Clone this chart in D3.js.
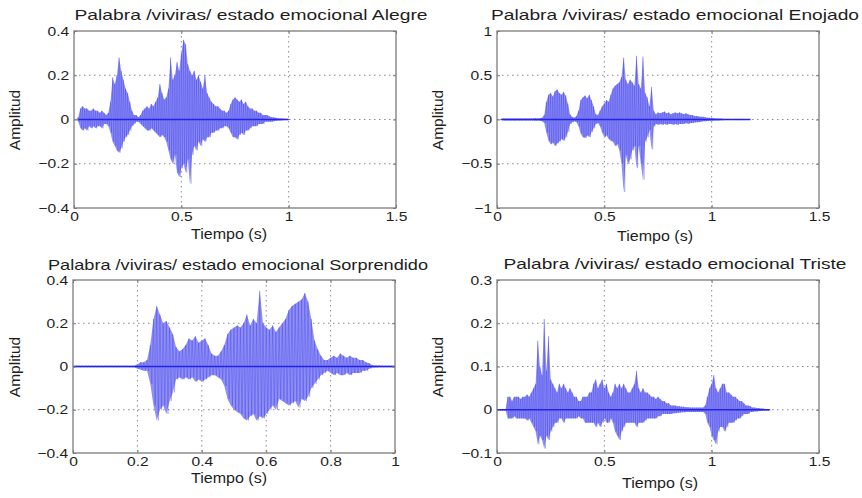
<!DOCTYPE html>
<html>
<head>
<meta charset="utf-8">
<script src="https://cdn.jsdelivr.net/npm/d3@7"></script>
<style>
  body { margin: 0; background: #fff; }
  svg { display: block; }
  text { font-family: "Liberation Sans", Arial, sans-serif; fill: #1e1e1e; }
</style>
</head>
<body>
<div id="chart"></div>
<script>
// envelope of each recording, one value every 10 ms starting at t = 0
const step = 0.01

const alegreUp = [0,0,0.01,0.05,0.06,0.05,0.05,0.04,0.04,0.05, 0.04,0.04,0.03,0.04,0.03,0.02,0.03,0.08,0.19,0.16,
  0.20,0.28,0.22,0.18,0.14,0.12,0.08,0.04,0.02,0.02, 0.01,0.02,0.04,0.05,0.06,0.05,0.07,0.06,0.08,0.10,
  0.16,0.12,0.09,0.10,0.14,0.28,0.18,0.20,0.26,0.22, 0.30,0.36,0.34,0.25,0.22,0.20,0.22,0.18,0.20,0.17,
  0.14,0.20,0.12,0.10,0.08,0.07,0.06,0.06,0.05,0.04, 0.04,0.03,0.04,0.07,0.09,0.10,0.09,0.08,0.09,0.07,
  0.08,0.06,0.05,0.05,0.04,0.04,0.03,0.03,0.02,0.02, 0.02,0.015,0.01,0.01,0.008,0.006,0.005,0.004,0.003,0.002, 0]
const alegreLo = [0,0,-0.01,-0.04,-0.05,-0.04,-0.05,-0.03,-0.04,-0.03, -0.04,-0.03,-0.03,-0.04,-0.02,-0.02,-0.03,-0.06,-0.10,-0.12,
  -0.14,-0.15,-0.13,-0.10,-0.08,-0.07,-0.05,-0.03,-0.02,-0.01, -0.01,-0.02,-0.03,-0.04,-0.05,-0.05,-0.04,-0.05,-0.06,-0.07,
  -0.08,-0.07,-0.08,-0.10,-0.14,-0.18,-0.20,-0.16,-0.24,-0.26, -0.22,-0.20,-0.24,-0.18,-0.29,-0.16,-0.12,-0.14,-0.10,-0.12,
  -0.09,-0.10,-0.08,-0.08,-0.06,-0.06,-0.05,-0.05,-0.04,-0.04, -0.03,-0.03,-0.04,-0.06,-0.08,-0.08,-0.09,-0.07,-0.06,-0.07,
  -0.05,-0.05,-0.04,-0.03,-0.03,-0.03,-0.02,-0.02,-0.02,-0.01, -0.01,-0.01,-0.01,-0.008,-0.006,-0.005,-0.004,-0.003,-0.002,-0.001, 0]

const enojadoUp = [0,0,0.005,0.012,0.012,0.01,0.012,0.01,0.012,0.01, 0.012,0.012,0.01,0.012,0.01,0.012,0.01,0.012,0.015,0.012,
  0.015,0.02,0.05,0.20,0.28,0.30,0.26,0.32,0.34,0.30, 0.28,0.31,0.27,0.18,0.06,0.03,0.02,0.04,0.10,0.22,
  0.25,0.27,0.24,0.28,0.22,0.15,0.06,0.05,0.10,0.15, 0.18,0.22,0.20,0.28,0.35,0.38,0.40,0.42,0.48,0.70,
  0.45,0.40,0.45,0.42,0.38,0.72,0.40,0.35,0.71,0.30, 0.25,0.15,0.37,0.10,0.06,0.08,0.07,0.08,0.09,0.07,
  0.08,0.06,0.07,0.08,0.07,0.08,0.07,0.06,0.07,0.06, 0.05,0.05,0.04,0.04,0.035,0.03,0.03,0.025,0.02,0.02,
  0.018,0.015,0.012,0.01,0.01,0.008,0.007,0.007,0.006,0.006, 0.005,0.005,0.005,0.004,0.004,0.004,0.003,0.003,0.002]
const enojadoLo = [0,0,-0.005,-0.012,-0.012,-0.01,-0.012,-0.01,-0.012,-0.01, -0.012,-0.012,-0.01,-0.012,-0.01,-0.012,-0.01,-0.012,-0.015,-0.012,
  -0.015,-0.02,-0.04,-0.15,-0.24,-0.28,-0.26,-0.30,-0.27,-0.25, -0.22,-0.24,-0.20,-0.14,-0.05,-0.03,-0.02,-0.03,-0.08,-0.16,
  -0.20,-0.21,-0.18,-0.20,-0.14,-0.10,-0.05,-0.04,-0.08,-0.15, -0.20,-0.18,-0.22,-0.24,-0.25,-0.30,-0.28,-0.35,-0.50,-0.82,
  -0.40,-0.50,-0.45,-0.35,-0.30,-0.55,-0.30,-0.50,-0.68,-0.25, -0.20,-0.12,-0.34,-0.08,-0.05,-0.06,-0.05,-0.06,-0.05,-0.06,
  -0.05,-0.05,-0.06,-0.05,-0.06,-0.05,-0.05,-0.05,-0.04,-0.05, -0.04,-0.04,-0.035,-0.03,-0.03,-0.025,-0.02,-0.02,-0.018,-0.015,
  -0.015,-0.012,-0.01,-0.01,-0.008,-0.008,-0.007,-0.007,-0.006,-0.006, -0.005,-0.005,-0.005,-0.004,-0.004,-0.004,-0.003,-0.003,-0.002]

const sorprendidoUp = [0.003,0.003,0.003,0.003,0.003,0.003,0.003,0.003,0.003,0.003, 0.003,0.003,0.003,0.003,0.003,0.003,0.003,0.003,0.003,0.003,
  0.01,0.02,0.02,0.03,0.10,0.22,0.28,0.24,0.20,0.21, 0.18,0.15,0.09,0.07,0.08,0.10,0.13,0.12,0.14,0.11,
  0.12,0.13,0.10,0.06,0.05,0.05,0.07,0.10,0.15,0.17, 0.18,0.19,0.18,0.20,0.24,0.19,0.22,0.20,0.35,0.20,
  0.18,0.17,0.19,0.16,0.18,0.20,0.22,0.26,0.28,0.29, 0.30,0.31,0.34,0.30,0.22,0.12,0.08,0.05,0.03,0.03,
  0.04,0.05,0.04,0.06,0.05,0.04,0.05,0.04,0.04,0.03, 0.03,0.02,0.015,0.006,0.005,0.005,0.004,0.004,0.003,0.003, 0.003]
const sorprendidoLo = [-0.003,-0.003,-0.003,-0.003,-0.003,-0.003,-0.003,-0.003,-0.003,-0.003, -0.003,-0.003,-0.003,-0.003,-0.003,-0.003,-0.003,-0.003,-0.003,-0.003,
  -0.01,-0.015,-0.02,-0.02,-0.08,-0.18,-0.25,-0.20,-0.18,-0.22, -0.16,-0.12,-0.06,-0.05,-0.06,-0.05,-0.06,-0.05,-0.07,-0.06,
  -0.07,-0.06,-0.05,-0.04,-0.04,-0.05,-0.06,-0.09,-0.15,-0.18, -0.20,-0.21,-0.22,-0.24,-0.25,-0.23,-0.22,-0.25,-0.23,-0.24,
  -0.22,-0.20,-0.18,-0.20,-0.15,-0.16,-0.17,-0.18,-0.17,-0.16, -0.19,-0.15,-0.16,-0.14,-0.10,-0.08,-0.06,-0.04,-0.03,-0.02,
  -0.03,-0.04,-0.03,-0.04,-0.04,-0.03,-0.04,-0.03,-0.03,-0.03, -0.02,-0.02,-0.01,-0.005,-0.005,-0.004,-0.004,-0.003,-0.003,-0.003, -0.003]

const tristeUp = [0.002,0.002,0.002,0.002,0.002,0.03,0.03,0.02,0.03,0.03, 0.03,0.025,0.03,0.03,0.035,0.03,0.04,0.05,0.06,0.16,
  0.10,0.08,0.21,0.09,0.17,0.07,0.06,0.05,0.04,0.06, 0.05,0.06,0.05,0.04,0.05,0.04,0.03,0.03,0.02,0.02,
  0.03,0.03,0.03,0.04,0.04,0.06,0.07,0.05,0.06,0.07, 0.05,0.06,0.04,0.03,0.04,0.06,0.05,0.06,0.05,0.06,
  0.05,0.04,0.04,0.05,0.06,0.09,0.05,0.04,0.05,0.04, 0.04,0.035,0.03,0.03,0.025,0.03,0.025,0.02,0.02,0.015,
  0.015,0.01,0.01,0.01,0.008,0.008,0.007,0.007,0.006,0.006, 0.005,0.005,0.005,0.005,0.005,0.005,0.005,0.01,0.03,0.05,
  0.06,0.08,0.05,0.04,0.05,0.06,0.06,0.04,0.04,0.035, 0.03,0.03,0.025,0.02,0.02,0.015,0.01,0.01,0.008,0.005,
  0.005,0.004,0.004,0.003,0.003,0.002,0.002,0.002]
const tristeLo = [-0.002,-0.002,-0.002,-0.002,-0.002,-0.02,-0.02,-0.02,-0.015,-0.02, -0.02,-0.02,-0.02,-0.02,-0.025,-0.02,-0.03,-0.04,-0.05,-0.08,
  -0.06,-0.07,-0.09,-0.06,-0.07,-0.05,-0.04,-0.03,-0.03,-0.02, -0.02,-0.03,-0.02,-0.02,-0.02,-0.02,-0.02,-0.02,-0.015,-0.02,
  -0.02,-0.03,-0.03,-0.03,-0.03,-0.03,-0.04,-0.03,-0.04,-0.03, -0.02,-0.03,-0.03,-0.02,-0.03,-0.05,-0.06,-0.07,-0.05,-0.04,
  -0.03,-0.03,-0.03,-0.03,-0.03,-0.04,-0.03,-0.03,-0.03,-0.025, -0.02,-0.02,-0.02,-0.02,-0.02,-0.015,-0.015,-0.01,-0.01,-0.01,
  -0.01,-0.01,-0.008,-0.008,-0.007,-0.007,-0.006,-0.006,-0.005,-0.005, -0.005,-0.005,-0.005,-0.005,-0.005,-0.005,-0.005,-0.01,-0.03,-0.04,
  -0.06,-0.07,-0.08,-0.05,-0.04,-0.04,-0.05,-0.04,-0.03,-0.03, -0.03,-0.025,-0.02,-0.02,-0.015,-0.01,-0.01,-0.01,-0.005,-0.005,
  -0.004,-0.004,-0.003,-0.003,-0.002,-0.002,-0.002,-0.002]

const titles = [
  "Palabra /viviras/ estado emocional Alegre",
  "Palabra /viviras/ estado emocional Enojado",
  "Palabra /viviras/ estado emocional Sorprendido",
  "Palabra /viviras/ estado emocional Triste"
]
const xTicks15 = [0, 0.5, 1, 1.5]
const xTicks10 = [0, 0.2, 0.4, 0.6, 0.8, 1]
const yTicks04 = [-0.4, -0.2, 0, 0.2, 0.4]
const yTicks1 = [-1, -0.5, 0, 0.5, 1]
const yTicks03 = [-0.1, 0, 0.1, 0.2, 0.3]
const xLabel = "Tiempo (s)"
const yLabel = "Amplitud"

const panels = [
  { title: titles[0], up: alegreUp, lo: alegreLo, start: 0.02, xTicks: xTicks15, yTicks: yTicks04 },
  { title: titles[1], up: enojadoUp, lo: enojadoLo, start: 0.02, xTicks: xTicks15, yTicks: yTicks1 },
  { title: titles[2], up: sorprendidoUp, lo: sorprendidoLo, start: 0, xTicks: xTicks10, yTicks: yTicks04 },
  { title: titles[3], up: tristeUp, lo: tristeLo, start: 0, xTicks: xTicks15, yTicks: yTicks03 }
]

// where each axes box and its texts sit in the picture
const layout = [
  { l: 74, t: 31, r: 396, b: 208, tx: 251, ty: 20, tw: 353, xlx: 229, xly: 239, ylx: 20, yly: 120 },
  { l: 497, t: 31, r: 819, b: 208, tx: 675, ty: 20, tw: 368, xlx: 655, xly: 241, ylx: 443, yly: 120 },
  { l: 73, t: 280, r: 395, b: 453, tx: 238, ty: 270, tw: 380, xlx: 229, xly: 483, ylx: 20, yly: 367 },
  { l: 497, t: 280, r: 819, b: 453, tx: 675, ty: 269, tw: 343, xlx: 660, xly: 488, ylx: 443, yly: 367 }
]

const W = 862, H = 498
const svg = d3.select("#chart").append("svg").attr("width", W).attr("height", H)
const fmt = v => String(v).replace("-", "\u2212")

panels.forEach((p, k) => {
  const L = layout[k]
  const x = d3.scaleLinear().domain(d3.extent(p.xTicks)).range([L.l, L.r])
  const y = d3.scaleLinear().domain(d3.extent(p.yTicks)).range([L.b, L.t])
  const g = svg.append("g")

  g.append("clipPath").attr("id", "clip" + k)
    .append("rect").attr("x", L.l).attr("y", L.t).attr("width", L.r - L.l).attr("height", L.b - L.t)

  // dotted grid
  g.append("g").selectAll("line").data(p.xTicks.slice(1, -1)).join("line")
    .attr("x1", d => x(d)).attr("x2", d => x(d)).attr("y1", L.t).attr("y2", L.b)
    .attr("stroke", "#8a8a8a").attr("stroke-width", 1).attr("stroke-dasharray", "1.5,3.5")
  g.append("g").selectAll("line").data(p.yTicks.slice(1, -1)).join("line")
    .attr("y1", d => y(d)).attr("y2", d => y(d)).attr("x1", L.l).attr("x2", L.r)
    .attr("stroke", "#8a8a8a").attr("stroke-width", 1).attr("stroke-dasharray", "1.5,3.5")

  // waveform
  const pts = p.up.map((u, i) => ({ t: i * step, u: u, v: p.lo[i] }))
  const wave = g.append("g").attr("clip-path", `url(#clip${k})`)
  wave.append("path").datum(pts)
    .attr("d", d3.area().x(d => x(d.t)).y0(d => y(d.v)).y1(d => y(d.u)))
    .attr("fill", "#8f8ff5")
  const zig = []
  pts.forEach(d => { zig.push([d.t, d.u]); zig.push([d.t + step / 2, d.v]) })
  wave.append("path").datum(zig)
    .attr("d", d3.line().x(d => x(d[0])).y(d => y(d[1])))
    .attr("fill", "none").attr("stroke", "#1a1ae6").attr("stroke-width", 0.6).attr("stroke-opacity", 0.4)
  wave.append("line")
    .attr("x1", x(p.start)).attr("x2", x(pts[pts.length - 1].t)).attr("y1", y(0)).attr("y2", y(0))
    .attr("stroke", "#2424e8").attr("stroke-width", 1.4)

  // axes, ticks pointing inwards like MATLAB
  const ax = (axis, tr) => g.append("g").attr("transform", tr).call(axis)
  const bottom = ax(d3.axisBottom(x).tickValues(p.xTicks).tickFormat(fmt).tickSizeInner(-3).tickSizeOuter(0).tickPadding(4), `translate(0,${L.b})`)
  const left = ax(d3.axisLeft(y).tickValues(p.yTicks).tickFormat(fmt).tickSizeInner(-3).tickSizeOuter(0).tickPadding(4), `translate(${L.l},0)`)
  ax(d3.axisTop(x).tickValues(p.xTicks).tickFormat("").tickSizeInner(-3).tickSizeOuter(0), `translate(0,${L.t})`)
  ax(d3.axisRight(y).tickValues(p.yTicks).tickFormat("").tickSizeInner(-3).tickSizeOuter(0), `translate(${L.r},0)`)
  g.selectAll(".domain").remove()
  g.selectAll(".tick line").attr("stroke", "#7c7c7c")
  bottom.selectAll("text").attr("font-size", 13).attr("fill", "#1e1e1e").attr("transform", "scale(1.2,1)")
  left.selectAll("text").attr("font-size", 13).attr("fill", "#1e1e1e").attr("transform", "scale(1.2,1)")

  g.append("rect").attr("x", L.l).attr("y", L.t).attr("width", L.r - L.l).attr("height", L.b - L.t)
    .attr("fill", "none").attr("stroke", "#7c7c7c").attr("stroke-width", 1.3)

  // texts
  g.append("text").attr("x", L.tx).attr("y", L.ty).attr("text-anchor", "middle")
    .attr("font-size", 14.5).attr("textLength", L.tw).attr("lengthAdjust", "spacingAndGlyphs")
    .text(p.title)
  g.append("text").attr("x", L.xlx).attr("y", L.xly).attr("text-anchor", "middle")
    .attr("font-size", 15).attr("transform", `translate(${L.xlx},0) scale(1.07,1) translate(${-L.xlx},0)`)
    .text(xLabel)
  g.append("text").attr("transform", `translate(${L.ylx},${L.yly}) rotate(-90)`)
    .attr("text-anchor", "middle").attr("font-size", 15.5).text(yLabel)
})
</script>
</body>
</html>
